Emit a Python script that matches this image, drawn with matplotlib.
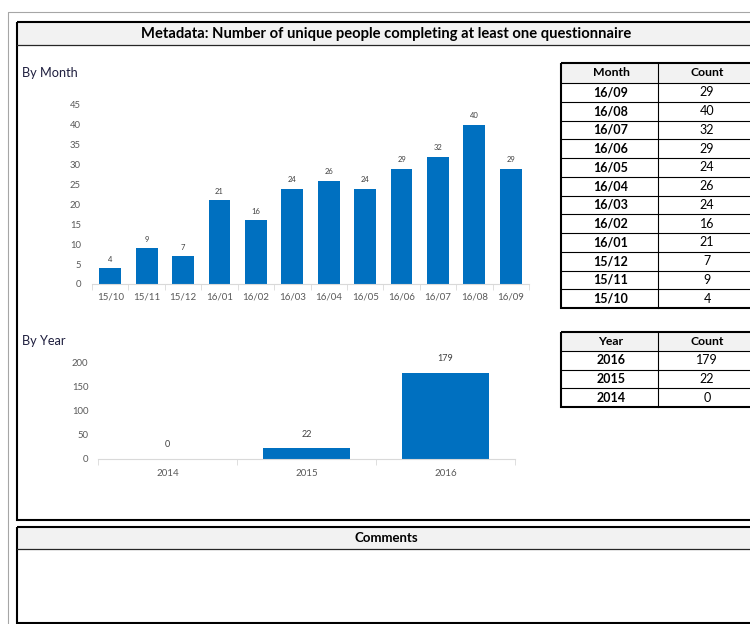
import matplotlib.pyplot as plt
from matplotlib.patches import Rectangle
import numpy as np

# data
months = ["15/10", "15/11", "15/12", "16/01", "16/02", "16/03",
          "16/04", "16/05", "16/06", "16/07", "16/08", "16/09"]
month_counts = [4, 9, 7, 21, 16, 24, 26, 24, 29, 32, 40, 29]
years = ["2014", "2015", "2016"]
year_counts = [0, 22, 179]

title = "Metadata: Number of unique people completing at least one questionnaire"

W, H = 750, 624
BLUE = "#0070C0"
GRID = "#D9D9D9"
TXT = "#595959"
plt.rcParams["font.family"] = ["Lato", "DejaVu Sans"]


def fig_rect(x0, y0, x1, y1):
    return [x0 / W, 1 - y1 / H, (x1 - x0) / W, (y1 - y0) / H]


fig = plt.figure(figsize=(W / 100, H / 100), dpi=100)
bg = fig.add_axes([0, 0, 1, 1])
bg.set_xlim(0, W)
bg.set_ylim(H, 0)
bg.axis("off")

# outer grey frame
bg.plot([8, 8, 760], [630, 12, 12], color="#A6A6A6", lw=0.8)

# main box with title band
bg.add_patch(Rectangle((17, 22), 760 - 17, 23, fc="#F2F2F2", ec="none"))
bg.plot([17, 760], [45, 45], color="#262626", lw=0.9)
bg.add_patch(Rectangle((17, 22), 760 - 17, 520 - 22, fill=False, ec="black", lw=1.5))
bg.text(386, 34, title, ha="center", va="center", fontsize=10.6, fontweight="bold")

# comments box
bg.add_patch(Rectangle((17, 527), 760 - 17, 22, fc="#F2F2F2", ec="none"))
bg.plot([17, 760], [549, 549], color="#262626", lw=0.9)
bg.add_patch(Rectangle((17, 527), 760 - 17, 623 - 527, fill=False, ec="black", lw=1.5))
bg.text(386, 538, "Comments", ha="center", va="center", fontsize=9.5, fontweight="bold")

bg.text(22, 73, "By Month", ha="left", va="center", fontsize=9.2, color="#1F1F3F")
bg.text(22, 341, "By Year", ha="left", va="center", fontsize=9.2, color="#1F1F3F")


def draw_table(top, header_h, row_h, headers, col1, col2):
    x0, xm, x1 = 561, 658, 760
    n = len(col1)
    bottom = top + header_h + n * row_h
    bg.add_patch(Rectangle((x0, top), x1 - x0, header_h, fc="#F2F2F2", ec="none"))
    for i in range(n):
        y = top + header_h + i * row_h
        bg.plot([x0, x1], [y, y], color="black", lw=0.8)
    bg.plot([xm, xm], [top, bottom], color="black", lw=0.8)
    bg.add_patch(Rectangle((x0, top), x1 - x0, bottom - top, fill=False, ec="black", lw=1.5))
    bg.text(611, top + header_h / 2, headers[0], ha="center", va="center",
            fontsize=8.8, fontweight="bold")
    bg.text(707, top + header_h / 2, headers[1], ha="center", va="center",
            fontsize=8.8, fontweight="bold")
    for i, (a, b) in enumerate(zip(col1, col2)):
        y = top + header_h + (i + 0.5) * row_h
        bg.text(611, y, a, ha="center", va="center", fontsize=9, fontweight="bold")
        bg.text(707, y, str(b), ha="center", va="center", fontsize=9)


draw_table(63, 20, 18.75, ["Month", "Count"], months[::-1], month_counts[::-1])
draw_table(332, 19, 18.7, ["Year", "Count"], years[::-1], year_counts[::-1])


def style_axis(ax, n, ypad, xpad):
    for s in ["top", "right", "left"]:
        ax.spines[s].set_visible(False)
    ax.spines["bottom"].set_color(GRID)
    ax.set_xlim(-0.5, n - 0.5)
    ax.set_xticks(np.arange(-0.5, n, 1), minor=True)
    ax.tick_params(axis="x", which="major", length=0, pad=xpad, labelsize=7, labelcolor=TXT)
    ax.tick_params(axis="x", which="minor", length=4, color=GRID)
    ax.tick_params(axis="y", length=0, pad=ypad, labelsize=6.8, labelcolor=TXT)
    ax.patch.set_visible(False)


# by month
axm = fig.add_axes(fig_rect(92, 105, 529, 284))
xm_ = np.arange(len(months))
bars = axm.bar(xm_, month_counts, width=0.6, color=BLUE)
axm.set_ylim(0, 45)
axm.set_yticks(range(0, 46, 5))
axm.set_xticks(xm_, months)
style_axis(axm, len(months), 8, 6)
axm.bar_label(bars, padding=4, fontsize=5.5, color="#404040")

# by year
axy = fig.add_axes(fig_rect(98, 363, 515, 459))
xy_ = np.arange(len(years))
bars = axy.bar(xy_, year_counts, width=0.62, color=BLUE)
axy.set_ylim(0, 200)
axy.set_yticks(range(0, 201, 50))
axy.set_xticks(xy_, years)
style_axis(axy, len(years), 7, 7)
axy.bar_label(bars, padding=7, fontsize=6.5, color="#404040")

fig.savefig("out.png", dpi=100)
